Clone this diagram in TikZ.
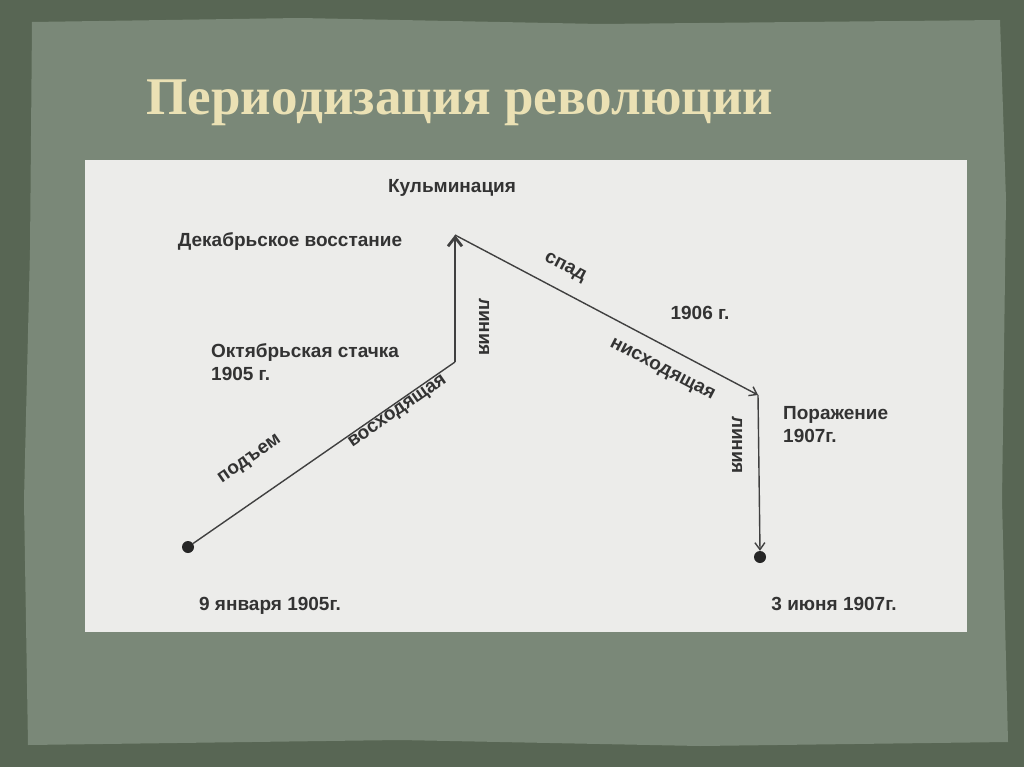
\documentclass[tikz,border=0pt]{standalone}
\usepackage{fontspec}
\usetikzlibrary{arrows.meta}
\setmainfont{Liberation Sans}
\newfontfamily\titlefont{Liberation Serif}
\begin{document}
\begin{tikzpicture}[x=1pt,y=-1pt,
  lbl/.style={font=\fontsize{19}{23}\selectfont\bfseries, text=black!80, inner sep=1pt},
  ln/.style={draw=black!75, line width=1.4pt},
  dot/.style={circle, fill=black!85, minimum size=12pt, inner sep=0pt}]
\useasboundingbox (0,0) rectangle (1024,767);
\fill[fill={rgb,255:red,88;green,102;blue,84}] (0,0) rectangle (1024,767);
\fill[fill={rgb,255:red,122;green,136;blue,120}] (32,22) -- (300,18) -- (600,24) -- (1000,20) -- (1006,200) -- (1002,500) -- (1008,742) -- (700,746) -- (400,740) -- (28,745) -- (24,500) -- (30,250) -- cycle;
\node[font=\titlefont\fontsize{53}{58}\selectfont\bfseries, text={rgb,255:red,235;green,225;blue,180}] (title) at (460,103) {Периодизация революции};
\fill[fill={rgb,255:red,236;green,236;blue,234}] (85,160) rectangle (967,632);
\node[dot] (s) at (188,547) {};
\coordinate (o) at (455,362);
\coordinate (t) at (455,235);
\coordinate (p) at (758,395);
\node[dot] (e) at (760,557) {};
\draw[ln] (s) -- (o);
\draw[ln, line width=2.8pt, -{Straight Barb[length=9pt,width=14pt]}] (o) -- (t);
\draw[ln, -{Straight Barb[length=7pt,width=10pt]}] (t) -- (p);
\draw[ln, -{Straight Barb[length=7pt,width=10pt]}] (p) -- (e.north);
\node[lbl] (k) at (452,188) {Кульминация};
\node[lbl] (d) at (290,242) {Декабрьское восстание};
\node[lbl, align=left, anchor=west] (oct) at (210,362) {Октябрьская стачка\\1905 г.};
\node[lbl, rotate=34.7] (up) at (250,460) {подъем};
\node[lbl, rotate=34.7] (vos) at (398,412) {восходящая};
\node[lbl, rotate=-90] (l1) at (484,327) {линия};
\node[lbl, rotate=-27.5] (sp) at (565,268) {спад};
\node[lbl] (y6) at (700,313) {1906 г.};
\node[lbl, rotate=-27.5] (nis) at (662,370) {нисходящая};
\node[lbl, rotate=-90] (l2) at (737,445) {линия};
\node[lbl, align=left, anchor=west] (por) at (782,425) {Поражение\\1907г.};
\node[lbl] (j9) at (270,606) {9 января 1905г.};
\node[lbl] (j3) at (834,604) {3 июня 1907г.};
\end{tikzpicture}
\end{document}
